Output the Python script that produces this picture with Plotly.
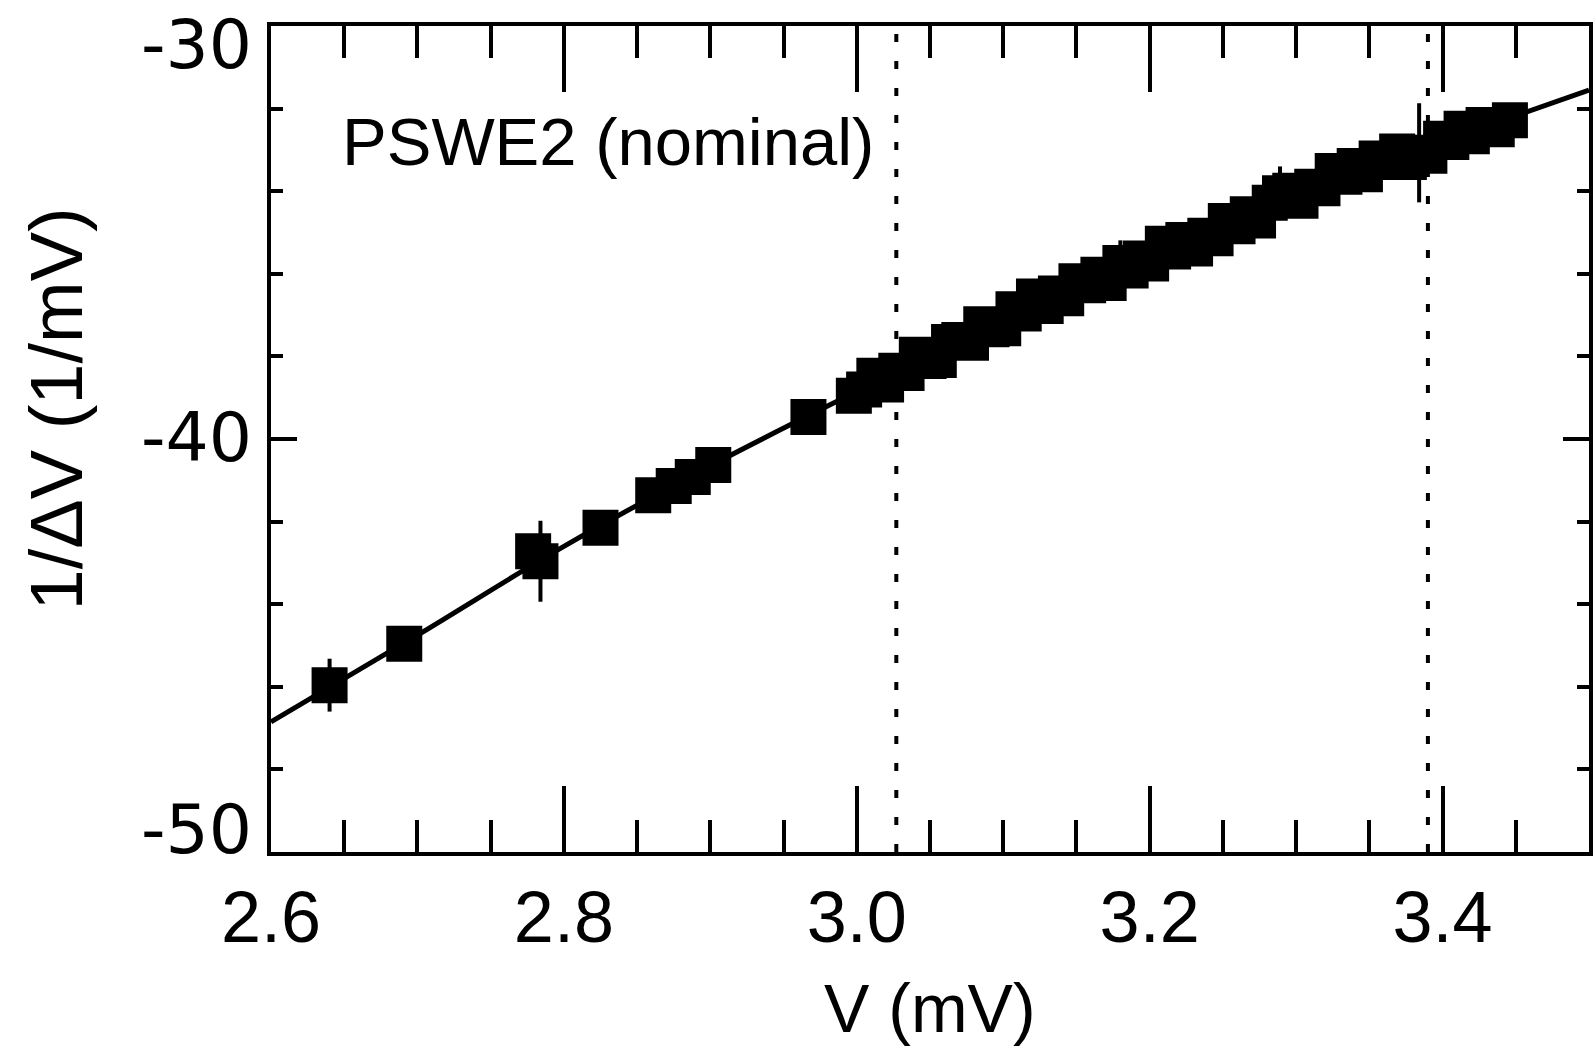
import plotly.graph_objects as go

# ---- data ----
v_sparse = [2.640, 2.691, 2.779, 2.784, 2.825, 2.861, 2.875, 2.888, 2.902, 2.967, 2.998, 3.005]
y_sparse = [-45.96, -44.96, -42.72, -42.96, -42.15, -41.36, -41.14, -40.92, -40.63, -39.47, -38.95, -38.80]
e_sparse = [0.64, 0.30, 0.30, 0.98, 0.30, 0.30, 0.30, 0.30, 0.30, 0.30, 0.30, 0.30]

v_dense = [3.012, 3.020, 3.027, 3.034, 3.041, 3.049, 3.056, 3.063, 3.070, 3.078,
           3.085, 3.092, 3.100, 3.107, 3.114, 3.121, 3.129, 3.136, 3.143, 3.150,
           3.158, 3.165, 3.172, 3.180, 3.187, 3.194, 3.201, 3.209, 3.216, 3.223,
           3.231, 3.238, 3.245, 3.252, 3.260, 3.267, 3.274, 3.282, 3.289, 3.296,
           3.303, 3.311, 3.318, 3.325, 3.333, 3.340, 3.347, 3.355, 3.362, 3.369,
           3.377, 3.384, 3.391, 3.399, 3.406, 3.413, 3.420, 3.428, 3.437, 3.446]
y_dense = [-38.47, -38.68, -38.35, -38.40, -37.96, -38.11, -38.09, -37.65, -37.60, -37.67,
           -37.22, -37.34, -37.32, -36.86, -36.96, -36.55, -36.78, -36.48, -36.59, -36.18,
           -36.28, -36.02, -36.22, -35.74, -35.92, -35.63, -35.75, -35.27, -35.46, -35.18,
           -35.39, -35.08, -35.14, -34.72, -34.85, -34.56, -34.71, -34.28, -34.05, -33.99,
           -34.23, -33.89, -33.93, -33.51, -33.65, -33.39, -33.59, -33.21, -33.29, -33.04,
           -33.29, -33.07, -33.14, -32.73, -32.81, -32.49, -32.67, -32.40, -32.50, -32.28]
e_dense = [0.30, 0.30, 0.30, 0.30, 0.30, 0.30, 0.30, 0.30, 0.30, 0.30,
           0.30, 0.30, 0.30, 0.30, 0.30, 0.30, 0.30, 0.30, 0.30, 0.30,
           0.30, 0.30, 0.30, 0.55, 0.30, 0.30, 0.30, 0.30, 0.30, 0.30,
           0.30, 0.30, 0.30, 0.30, 0.30, 0.30, 0.30, 0.30, 0.65, 0.30,
           0.30, 0.30, 0.30, 0.30, 0.30, 0.30, 0.30, 0.30, 0.30, 0.30,
           0.30, 1.20, 0.30, 0.30, 0.30, 0.30, 0.30, 0.30, 0.30, 0.30]

fit_v = [2.60, 2.70, 2.80, 2.90, 3.00, 3.10, 3.20, 3.30, 3.40, 3.50]
fit_y = [-46.85, -44.75, -42.60, -40.65, -38.85, -37.10, -35.55, -34.10, -32.80, -31.55]

dashed_v = [3.027, 3.390]

x_ticks = [2.6, 2.8, 3.0, 3.2, 3.4]
x_ticktext = ["2.6", "2.8", "3.0", "3.2", "3.4"]
y_ticks = [-30, -40, -50]
y_ticktext = ["-30", "-40", "-50"]

label_text = "PSWE2 (nominal)"
x_title = "V (mV)"
y_title = "1/ΔV (1/mV)"

FONT = "Liberation Sans, Arial, Helvetica, sans-serif"
YFONT = "DejaVu Sans, Liberation Sans, sans-serif"

v_all = v_sparse + v_dense
y_all = y_sparse + y_dense
e_all = e_sparse + e_dense

fig = go.Figure()
fig.add_trace(go.Scatter(x=fit_v, y=fit_y, mode="lines", line=dict(color="black", width=5, shape="spline"),
                         hoverinfo="skip", showlegend=False))
fig.add_trace(go.Scatter(x=v_all, y=y_all, mode="markers",
                         marker=dict(symbol="square", size=36, color="black", line=dict(width=0)),
                         error_y=dict(type="data", array=e_all, visible=True, color="black", thickness=4, width=0),
                         showlegend=False))

for xv in dashed_v:
    fig.add_shape(type="line", xref="x", yref="paper", x0=xv, x1=xv, y0=0, y1=1,
                  line=dict(color="black", width=4, dash="8px,19px"), layer="above")

# y tick labels (end labels sit inside the axis span, as in the reference)
y_shifts = [-18, 2, 23]
for yv, txt, ys in zip(y_ticks, y_ticktext, y_shifts):
    fig.add_annotation(text=txt, xref="paper", yref="y", x=0, y=yv, xanchor="right", yanchor="middle",
                       xshift=-17, yshift=ys, showarrow=False, font=dict(family=YFONT, size=68, color="black"))

fig.add_annotation(text=label_text, xref="paper", yref="paper", x=0.052, y=0.8596, xanchor="left",
                   yanchor="middle", showarrow=False, font=dict(family=FONT, size=67, color="black"))
fig.add_annotation(text=x_title, xref="paper", yref="paper", x=0.5, y=-0.189, xanchor="center",
                   yanchor="middle", showarrow=False, font=dict(family=FONT, size=68, color="black"))
fig.add_annotation(text=y_title, xref="paper", yref="paper", x=-0.163, y=0.536, xanchor="center",
                   yanchor="middle", textangle=-90, showarrow=False, font=dict(family=FONT, size=74, color="black"))

axis_common = dict(showgrid=False, zeroline=False, showline=True, linecolor="black", linewidth=4,
                   mirror="allticks", ticks="inside", tickcolor="black", tickwidth=4)

fig.update_xaxes(range=[2.6, 3.5], tickvals=x_ticks, ticktext=x_ticktext, ticklen=66,
                 minor=dict(dtick=0.05, tick0=2.6, ticks="inside", ticklen=32, tickwidth=4, tickcolor="black", showgrid=False),
                 tickfont=dict(family=FONT, size=72, color="black"), ticklabelstandoff=0, **axis_common)
fig.update_yaxes(range=[-50, -30], tickvals=y_ticks, showticklabels=False, ticklen=26,
                 minor=dict(dtick=2, tick0=-50, ticks="inside", ticklen=12, tickwidth=4, tickcolor="black", showgrid=False),
                 **axis_common)

fig.update_layout(width=1594, height=1050, margin=dict(l=271, r=1, t=26, b=198),
                  paper_bgcolor="white", plot_bgcolor="white", showlegend=False)

fig.write_html("out.html", config={"displayModeBar": False},
               post_script="document.body.style.margin='0';document.body.style.overflow='hidden';")
